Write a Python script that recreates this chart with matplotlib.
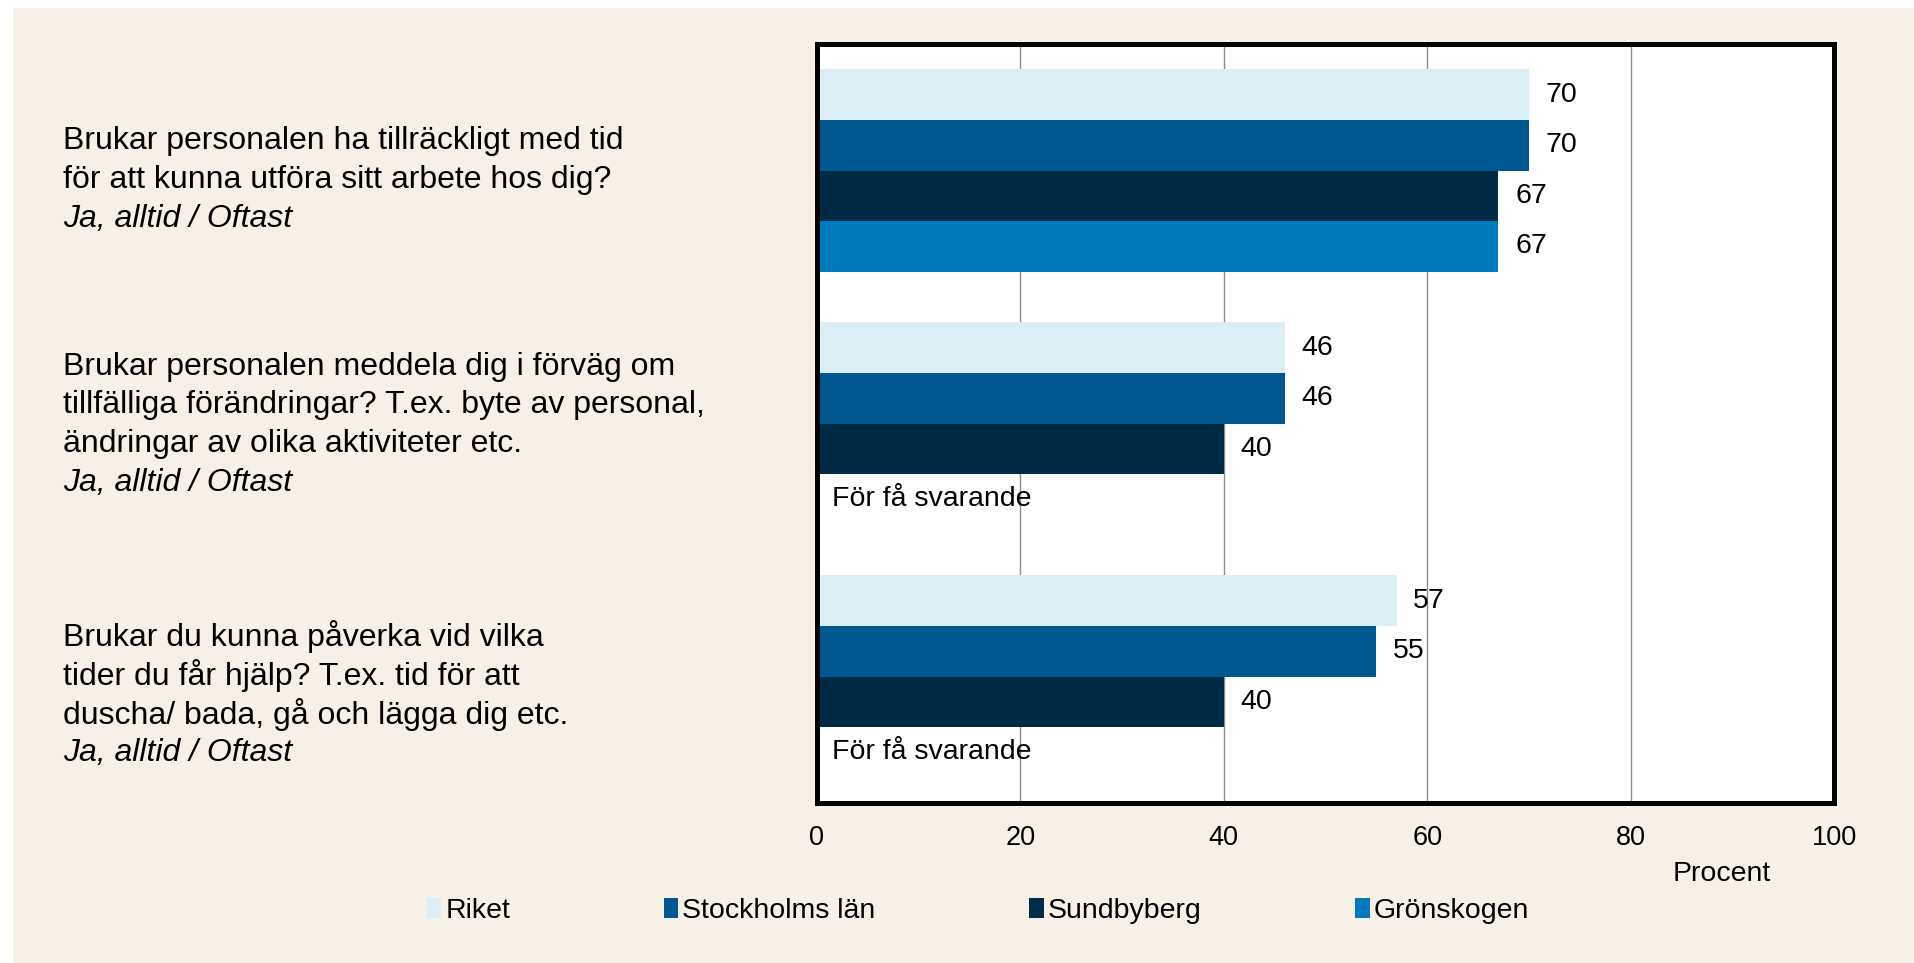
import numpy as np
import matplotlib.pyplot as plt
from matplotlib.patches import Rectangle
from matplotlib.transforms import blended_transform_factory

plt.rcParams['font.family'] = ['Liberation Sans', 'DejaVu Sans']

questions = [
    ["Brukar personalen ha tillräckligt med tid",
     "för att kunna utföra sitt arbete hos dig?"],
    ["Brukar personalen meddela dig i förväg om",
     "tillfälliga förändringar? T.ex. byte av personal,",
     "ändringar av olika aktiviteter etc."],
    ["Brukar du kunna påverka vid vilka",
     "tider du får hjälp? T.ex. tid för att",
     "duscha/ bada, gå och lägga dig etc."],
]
answer = "Ja, alltid / Oftast"
series = ["Riket", "Stockholms län", "Sundbyberg", "Grönskogen"]
colors = ["#DBEEF6", "#005891", "#002B45", "#007ABF"]
values = [
    [70, 46, 57],
    [70, 46, 55],
    [67, 40, 40],
    [67, None, None],
]
missing_text = "För få svarande"
xticks = [0, 20, 40, 60, 80, 100]

fig = plt.figure(figsize=(19.14, 9.63), dpi=100)
fig.patches.append(Rectangle((13 / 1914, 0), 1, 1 - 8 / 963, transform=fig.transFigure,
                             facecolor="#F7F0E7", edgecolor="none", zorder=-10))

ax = fig.add_axes([817 / 1914, 1 - 803 / 963, (1834 - 817) / 1914, (803 - 44) / 963])
ax.set_facecolor("white")

y = np.arange(len(questions))
h = 0.2
for i, (name, col, vals) in enumerate(zip(series, colors, values)):
    pos = y - 0.3 + i * h
    for p, v in zip(pos, vals):
        if v is None:
            ax.annotate(missing_text, (0, p), xytext=(11, 0), textcoords="offset points",
                        va="center", ha="left", fontsize=20.5)
            continue
        ax.barh(p, v, height=h, color=col, edgecolor="none", zorder=2)
        ax.annotate(str(v), (v, p), xytext=(12, 0), textcoords="offset points",
                    va="center", ha="left", fontsize=20.5)
    ax.barh([np.nan], [0], color=col, label=name)

ax.set_xlim(0, 100)
ax.set_ylim(2.5, -0.5)
ax.set_xticks(xticks)
ax.set_yticks([])
ax.tick_params(axis="x", length=0, pad=16, labelsize=19.5)
ax.grid(axis="x", color="#8c8c8c", linewidth=1, zorder=0)
ax.set_axisbelow(True)
for s in ax.spines.values():
    s.set_linewidth(3.6)
    s.set_color("black")
ax.set_xlabel("Procent", fontsize=20.5)
ax.xaxis.set_label_coords(0.89, -0.076)

# question labels on the left, one text per line, last line in italics
trans = blended_transform_factory(fig.transFigure, ax.transData)
shift = [7, 1, 13]
step = 28
for yi, lines, sh in zip(y, questions, shift):
    all_lines = lines + [answer]
    n = len(all_lines)
    for k, line in enumerate(all_lines):
        dy = -((k - (n - 1) / 2) * step + sh)
        ax.annotate(line, (63 / 1914, yi), xycoords=trans, xytext=(0, dy),
                    textcoords="offset points", ha="left", va="center", fontsize=23,
                    style="italic" if k == n - 1 else "normal", annotation_clip=False)

leg = fig.legend(loc="center", bbox_to_anchor=(0.511, 1 - 911 / 963), ncol=4, frameon=False,
                 fontsize=20.5, handlelength=0.5, handleheight=0.7, handletextpad=0.15,
                 columnspacing=5.4)

fig.savefig("out.png", dpi=100)
